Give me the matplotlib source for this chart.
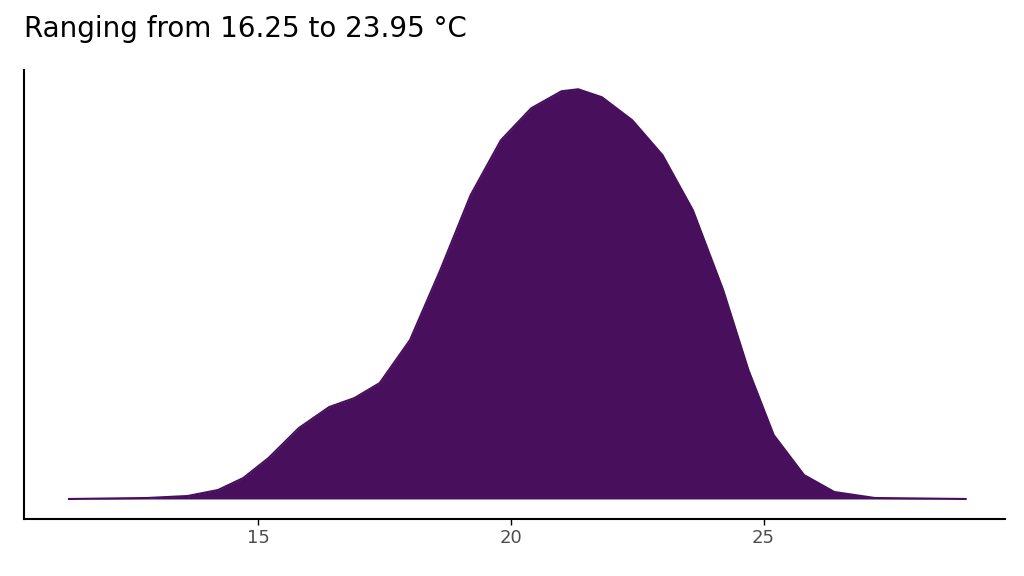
import matplotlib.pyplot as plt

# temperature (°C) and relative density
temp = [11.25, 12.8, 13.6, 14.2, 14.7, 15.2, 15.8, 16.4, 16.9, 17.4, 18.0, 18.6,
        19.2, 19.8, 20.4, 21.0, 21.33, 21.8, 22.4, 23.0, 23.6, 24.2, 24.7, 25.2,
        25.8, 26.4, 27.2, 29.0]
density = [0, 1, 3, 9, 21, 41, 71, 92, 101, 116, 159, 229,
           304, 359, 391, 408, 410, 402, 379, 344, 289, 209, 129, 64,
           24, 7, 1, 0]

fig = plt.figure(figsize=(10.24, 5.76), dpi=100)
ax = fig.add_axes([0.023, 0.099, 0.958, 0.779])
col = '#470f5c'
ax.fill_between(temp, density, 0, color=col, lw=0)
ax.plot(temp, density, color=col, lw=1.5)

ax.set_xlim(10.35, 29.77)
ax.set_ylim(-20, 429)
ax.set_xticks([15, 20, 25])
ax.tick_params(axis='x', colors='#4d4d4d', labelsize=13, length=4, width=1)
ax.tick_params(axis='x', color='black')
ax.set_yticks([])
for s in ['top', 'right']:
    ax.spines[s].set_visible(False)
for s in ['left', 'bottom']:
    ax.spines[s].set_linewidth(1.5)

fig.text(0.023, 0.925, 'Ranging from 16.25 to 23.95 °C', fontsize=20, va='bottom')
fig.savefig('out.png')
